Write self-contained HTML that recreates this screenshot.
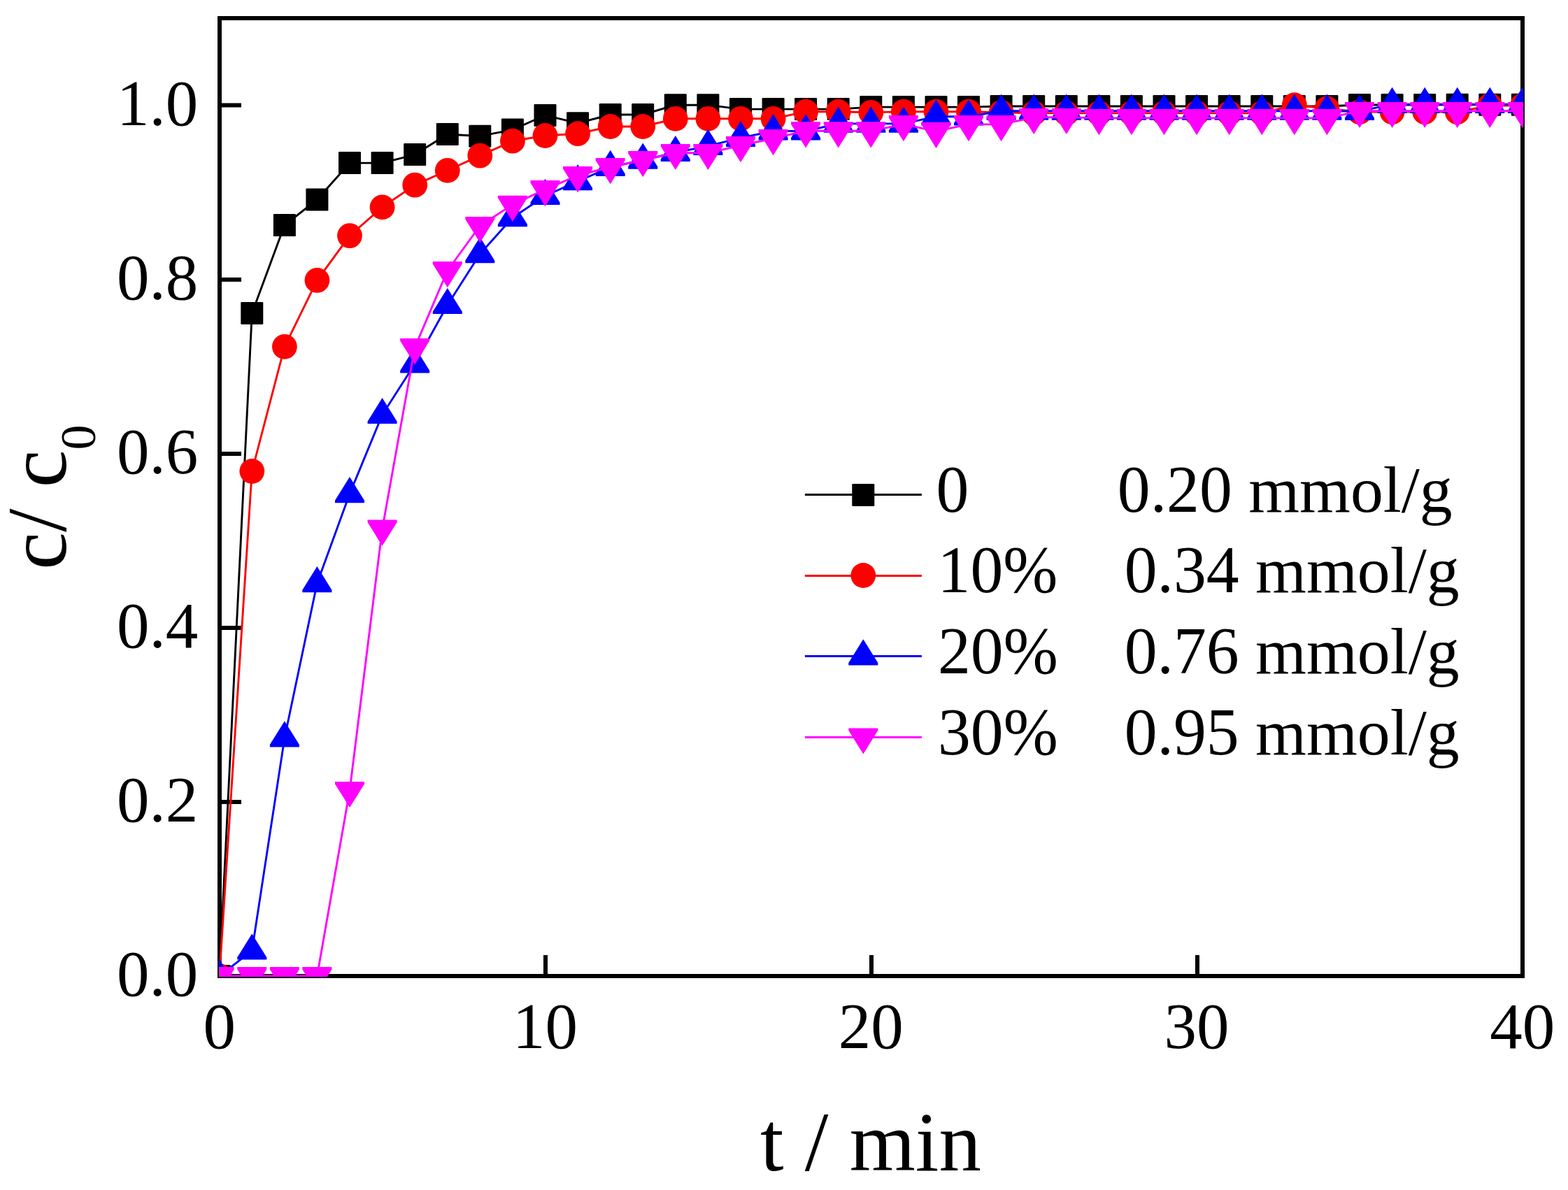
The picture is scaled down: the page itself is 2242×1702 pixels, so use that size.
<!DOCTYPE html>
<html lang="en">
<head>
<meta charset="utf-8">
<title>c/c0 versus t</title>
<style>
html,body{margin:0;padding:0;background:#fff;}
body{width:2242px;height:1702px;overflow:hidden;}
svg{display:block;}
text{font-family:"Liberation Serif",serif;fill:#000;}
.tick{font-size:93px;}
.leg{font-size:93.7px;white-space:pre;}
.lab{font-size:121px;white-space:pre;}
.sub{font-size:72px;}
.ax{stroke:#000;stroke-width:6;fill:none;}
.tk{stroke:#000;stroke-width:6;stroke-linecap:butt;fill:none;}
.ln{fill:none;stroke-width:2.9;stroke-linejoin:round;}
</style>
</head>
<body>
<svg width="2242" height="1702" viewBox="0 0 2242 1702">
<rect x="0" y="0" width="2242" height="1702" fill="#fff"/>
<defs><clipPath id="plot"><rect x="313" y="24" width="1865" height="1373"/></clipPath></defs>
<rect class="ax" x="314" y="26" width="1863" height="1370"/>
<g class="tk"><line x1="314" y1="1147" x2="345" y2="1147"/><line x1="314" y1="898" x2="345" y2="898"/><line x1="314" y1="649" x2="345" y2="649"/><line x1="314" y1="399.9" x2="345" y2="399.9"/><line x1="314" y1="150.5" x2="345" y2="150.5"/><line x1="780" y1="1396" x2="780" y2="1366"/><line x1="1246" y1="1396" x2="1246" y2="1366"/><line x1="1712" y1="1396" x2="1712" y2="1366"/></g>
<g class="tick" text-anchor="end"><text transform="translate(283.3,1424.3) scale(1,1.01)">0.0</text><text transform="translate(283.3,1175.3) scale(1,1.01)">0.2</text><text transform="translate(283.3,926.3) scale(1,1.01)">0.4</text><text transform="translate(283.3,677.3) scale(1,1.01)">0.6</text><text transform="translate(283.3,428.2) scale(1,1.01)">0.8</text><text transform="translate(283.3,178.8) scale(1,1.01)">1.0</text></g>
<g class="tick" text-anchor="middle"><text transform="translate(313.8,1499) scale(1,1.01)">0</text><text transform="translate(779.5,1499) scale(1,1.01)">10</text><text transform="translate(1245.3,1499) scale(1,1.01)">20</text><text transform="translate(1711,1499) scale(1,1.01)">30</text><text transform="translate(2176.8,1499) scale(1,1.01)">40</text></g>
<text class="lab" x="1087" y="1674">t / min</text>
<text class="lab" transform="translate(94,814.8) rotate(-90)">c/ c<tspan class="sub" dy="42">0</tspan></text>
<g clip-path="url(#plot)">
<g fill="#000"><polyline class="ln" stroke="#000" points="313.7,1396 360.3,448 406.9,322.1 453.4,285.5 500,233.1 546.6,233.1 593.2,221.1 639.8,192 686.3,194.7 732.9,185.6 779.5,164.9 826.1,176.2 872.7,164 919.2,164 965.8,150.2 1012.4,150.2 1059,156.1 1105.6,156.1 1152.1,156.1 1198.7,156.1 1245.3,153.1 1291.9,153.1 1338.5,153.1 1385,153.1 1431.6,152 1478.2,152 1524.8,152 1571.4,152 1617.9,152 1664.5,152 1711.1,152 1757.7,152 1804.3,152 1850.8,152 1897.4,152 1944,150 1990.6,150 2037.2,150 2083.7,149.8 2130.3,149.8 2176.9,149.8"/>
<rect x="297.7" y="1380" width="32" height="32" rx="1.2"/><rect x="344.3" y="432" width="32" height="32" rx="1.2"/><rect x="390.9" y="306.1" width="32" height="32" rx="1.2"/><rect x="437.4" y="269.5" width="32" height="32" rx="1.2"/><rect x="484" y="217.1" width="32" height="32" rx="1.2"/><rect x="530.6" y="217.1" width="32" height="32" rx="1.2"/><rect x="577.2" y="205.1" width="32" height="32" rx="1.2"/><rect x="623.8" y="176" width="32" height="32" rx="1.2"/><rect x="670.3" y="178.7" width="32" height="32" rx="1.2"/><rect x="716.9" y="169.6" width="32" height="32" rx="1.2"/><rect x="763.5" y="148.9" width="32" height="32" rx="1.2"/><rect x="810.1" y="160.2" width="32" height="32" rx="1.2"/><rect x="856.7" y="148" width="32" height="32" rx="1.2"/><rect x="903.2" y="148" width="32" height="32" rx="1.2"/><rect x="949.8" y="134.2" width="32" height="32" rx="1.2"/><rect x="996.4" y="134.2" width="32" height="32" rx="1.2"/><rect x="1043" y="140.1" width="32" height="32" rx="1.2"/><rect x="1089.6" y="140.1" width="32" height="32" rx="1.2"/><rect x="1136.1" y="140.1" width="32" height="32" rx="1.2"/><rect x="1182.7" y="140.1" width="32" height="32" rx="1.2"/><rect x="1229.3" y="137.1" width="32" height="32" rx="1.2"/><rect x="1275.9" y="137.1" width="32" height="32" rx="1.2"/><rect x="1322.5" y="137.1" width="32" height="32" rx="1.2"/><rect x="1369" y="137.1" width="32" height="32" rx="1.2"/><rect x="1415.6" y="136" width="32" height="32" rx="1.2"/><rect x="1462.2" y="136" width="32" height="32" rx="1.2"/><rect x="1508.8" y="136" width="32" height="32" rx="1.2"/><rect x="1555.4" y="136" width="32" height="32" rx="1.2"/><rect x="1601.9" y="136" width="32" height="32" rx="1.2"/><rect x="1648.5" y="136" width="32" height="32" rx="1.2"/><rect x="1695.1" y="136" width="32" height="32" rx="1.2"/><rect x="1741.7" y="136" width="32" height="32" rx="1.2"/><rect x="1788.3" y="136" width="32" height="32" rx="1.2"/><rect x="1834.8" y="136" width="32" height="32" rx="1.2"/><rect x="1881.4" y="136" width="32" height="32" rx="1.2"/><rect x="1928" y="134" width="32" height="32" rx="1.2"/><rect x="1974.6" y="134" width="32" height="32" rx="1.2"/><rect x="2021.2" y="134" width="32" height="32" rx="1.2"/><rect x="2067.7" y="133.8" width="32" height="32" rx="1.2"/><rect x="2114.3" y="133.8" width="32" height="32" rx="1.2"/><rect x="2160.9" y="133.8" width="32" height="32" rx="1.2"/></g>
<g fill="#f00"><polyline class="ln" stroke="#f00" points="313.7,1396 360.3,674 406.9,495.8 453.4,400.9 500,337.1 546.6,296.3 593.2,264.6 639.8,243.8 686.3,222.6 732.9,201.7 779.5,194 826.1,191.2 872.7,181 919.2,181 965.8,169.8 1012.4,169.8 1059,169.8 1105.6,169.8 1152.1,159.7 1198.7,159.7 1245.3,160.8 1291.9,159.7 1338.5,159.7 1385,159.7 1431.6,160.8 1478.2,161.9 1524.8,161.9 1571.4,161.9 1617.9,161.9 1664.5,161.9 1711.1,161.9 1757.7,161.9 1804.3,161.9 1850.8,150.2 1897.4,155.2 1944,160.1 1990.6,160.1 2037.2,160.1 2083.7,160.1 2130.3,151 2176.9,151"/>
<circle cx="313.7" cy="1396" r="17.9"/><circle cx="360.3" cy="674" r="17.9"/><circle cx="406.9" cy="495.8" r="17.9"/><circle cx="453.4" cy="400.9" r="17.9"/><circle cx="500" cy="337.1" r="17.9"/><circle cx="546.6" cy="296.3" r="17.9"/><circle cx="593.2" cy="264.6" r="17.9"/><circle cx="639.8" cy="243.8" r="17.9"/><circle cx="686.3" cy="222.6" r="17.9"/><circle cx="732.9" cy="201.7" r="17.9"/><circle cx="779.5" cy="194" r="17.9"/><circle cx="826.1" cy="191.2" r="17.9"/><circle cx="872.7" cy="181" r="17.9"/><circle cx="919.2" cy="181" r="17.9"/><circle cx="965.8" cy="169.8" r="17.9"/><circle cx="1012.4" cy="169.8" r="17.9"/><circle cx="1059" cy="169.8" r="17.9"/><circle cx="1105.6" cy="169.8" r="17.9"/><circle cx="1152.1" cy="159.7" r="17.9"/><circle cx="1198.7" cy="159.7" r="17.9"/><circle cx="1245.3" cy="160.8" r="17.9"/><circle cx="1291.9" cy="159.7" r="17.9"/><circle cx="1338.5" cy="159.7" r="17.9"/><circle cx="1385" cy="159.7" r="17.9"/><circle cx="1431.6" cy="160.8" r="17.9"/><circle cx="1478.2" cy="161.9" r="17.9"/><circle cx="1524.8" cy="161.9" r="17.9"/><circle cx="1571.4" cy="161.9" r="17.9"/><circle cx="1617.9" cy="161.9" r="17.9"/><circle cx="1664.5" cy="161.9" r="17.9"/><circle cx="1711.1" cy="161.9" r="17.9"/><circle cx="1757.7" cy="161.9" r="17.9"/><circle cx="1804.3" cy="161.9" r="17.9"/><circle cx="1850.8" cy="150.2" r="17.9"/><circle cx="1897.4" cy="155.2" r="17.9"/><circle cx="1944" cy="160.1" r="17.9"/><circle cx="1990.6" cy="160.1" r="17.9"/><circle cx="2037.2" cy="160.1" r="17.9"/><circle cx="2083.7" cy="160.1" r="17.9"/><circle cx="2130.3" cy="151" r="17.9"/><circle cx="2176.9" cy="151" r="17.9"/></g>
<g fill="#00f"><polyline class="ln" stroke="#00f" points="313.7,1396 360.3,1359.7 406.9,1055.5 453.4,834.3 500,706.3 546.6,593.2 593.2,520.5 639.8,436.2 686.3,363.3 732.9,311.3 779.5,280 826.1,259.4 872.7,239 919.2,228.8 965.8,218.2 1012.4,209 1059,197.2 1105.6,187.5 1152.1,187.5 1198.7,176.9 1245.3,176.9 1291.9,176.9 1338.5,166.7 1385,166.7 1431.6,158.8 1478.2,158.8 1524.8,158.8 1571.4,158.8 1617.9,158.8 1664.5,158.8 1711.1,158.8 1757.7,158.8 1804.3,158.8 1850.8,158.8 1897.4,158.8 1944,159.2 1990.6,149.1 2037.2,149.1 2083.7,149.1 2130.3,149.1 2176.9,149.1"/>
<polygon points="313.7,1371.7 334.7,1405.5 334.7,1408.9 292.7,1408.9 292.7,1405.5"/><polygon points="360.3,1335.4 381.3,1369.2 381.3,1372.6 339.3,1372.6 339.3,1369.2"/><polygon points="406.9,1031.2 427.9,1065 427.9,1068.4 385.9,1068.4 385.9,1065"/><polygon points="453.4,810 474.4,843.8 474.4,847.2 432.4,847.2 432.4,843.8"/><polygon points="500,682 521,715.8 521,719.2 479,719.2 479,715.8"/><polygon points="546.6,568.9 567.6,602.7 567.6,606.1 525.6,606.1 525.6,602.7"/><polygon points="593.2,496.2 614.2,530 614.2,533.4 572.2,533.4 572.2,530"/><polygon points="639.8,411.9 660.8,445.7 660.8,449.1 618.8,449.1 618.8,445.7"/><polygon points="686.3,339 707.3,372.8 707.3,376.2 665.3,376.2 665.3,372.8"/><polygon points="732.9,287 753.9,320.8 753.9,324.2 711.9,324.2 711.9,320.8"/><polygon points="779.5,255.7 800.5,289.5 800.5,292.9 758.5,292.9 758.5,289.5"/><polygon points="826.1,235.1 847.1,268.9 847.1,272.3 805.1,272.3 805.1,268.9"/><polygon points="872.7,214.7 893.7,248.5 893.7,251.9 851.7,251.9 851.7,248.5"/><polygon points="919.2,204.5 940.2,238.3 940.2,241.7 898.2,241.7 898.2,238.3"/><polygon points="965.8,193.9 986.8,227.7 986.8,231.1 944.8,231.1 944.8,227.7"/><polygon points="1012.4,184.7 1033.4,218.5 1033.4,221.9 991.4,221.9 991.4,218.5"/><polygon points="1059,172.9 1080,206.7 1080,210.1 1038,210.1 1038,206.7"/><polygon points="1105.6,163.2 1126.6,197 1126.6,200.4 1084.6,200.4 1084.6,197"/><polygon points="1152.1,163.2 1173.1,197 1173.1,200.4 1131.1,200.4 1131.1,197"/><polygon points="1198.7,152.6 1219.7,186.4 1219.7,189.8 1177.7,189.8 1177.7,186.4"/><polygon points="1245.3,152.6 1266.3,186.4 1266.3,189.8 1224.3,189.8 1224.3,186.4"/><polygon points="1291.9,152.6 1312.9,186.4 1312.9,189.8 1270.9,189.8 1270.9,186.4"/><polygon points="1338.5,142.4 1359.5,176.2 1359.5,179.6 1317.5,179.6 1317.5,176.2"/><polygon points="1385,142.4 1406,176.2 1406,179.6 1364,179.6 1364,176.2"/><polygon points="1431.6,134.5 1452.6,168.3 1452.6,171.7 1410.6,171.7 1410.6,168.3"/><polygon points="1478.2,134.5 1499.2,168.3 1499.2,171.7 1457.2,171.7 1457.2,168.3"/><polygon points="1524.8,134.5 1545.8,168.3 1545.8,171.7 1503.8,171.7 1503.8,168.3"/><polygon points="1571.4,134.5 1592.4,168.3 1592.4,171.7 1550.4,171.7 1550.4,168.3"/><polygon points="1617.9,134.5 1638.9,168.3 1638.9,171.7 1596.9,171.7 1596.9,168.3"/><polygon points="1664.5,134.5 1685.5,168.3 1685.5,171.7 1643.5,171.7 1643.5,168.3"/><polygon points="1711.1,134.5 1732.1,168.3 1732.1,171.7 1690.1,171.7 1690.1,168.3"/><polygon points="1757.7,134.5 1778.7,168.3 1778.7,171.7 1736.7,171.7 1736.7,168.3"/><polygon points="1804.3,134.5 1825.3,168.3 1825.3,171.7 1783.3,171.7 1783.3,168.3"/><polygon points="1850.8,134.5 1871.8,168.3 1871.8,171.7 1829.8,171.7 1829.8,168.3"/><polygon points="1897.4,134.5 1918.4,168.3 1918.4,171.7 1876.4,171.7 1876.4,168.3"/><polygon points="1944,134.9 1965,168.7 1965,172.1 1923,172.1 1923,168.7"/><polygon points="1990.6,124.8 2011.6,158.6 2011.6,162 1969.6,162 1969.6,158.6"/><polygon points="2037.2,124.8 2058.2,158.6 2058.2,162 2016.2,162 2016.2,158.6"/><polygon points="2083.7,124.8 2104.7,158.6 2104.7,162 2062.7,162 2062.7,158.6"/><polygon points="2130.3,124.8 2151.3,158.6 2151.3,162 2109.3,162 2109.3,158.6"/><polygon points="2176.9,124.8 2197.9,158.6 2197.9,162 2155.9,162 2155.9,158.6"/></g>
<g fill="#f0f"><polyline class="ln" stroke="#f0f" points="313.7,1396 360.3,1396 406.9,1396 453.4,1396 500,1130.8 546.6,756.5 593.2,496.9 639.8,387 686.3,323 732.9,292.6 779.5,271 826.1,250.9 872.7,239 919.2,229 965.8,218.8 1012.4,218.8 1059,208 1105.6,198 1152.1,187.2 1198.7,187.2 1245.3,187.2 1291.9,177.9 1338.5,187.6 1385,177.9 1431.6,177.9 1478.2,167.8 1524.8,167.8 1571.4,168.9 1617.9,168.9 1664.5,168.9 1711.1,168.9 1757.7,168.9 1804.3,168.9 1850.8,168.9 1897.4,168.9 1944,158.8 1990.6,158.8 2037.2,158.8 2083.7,158.8 2130.3,158.8 2176.9,158.8"/>
<polygon points="292.7,1383.1 334.7,1383.1 334.7,1386.5 313.7,1420.3 292.7,1386.5"/><polygon points="339.3,1383.1 381.3,1383.1 381.3,1386.5 360.3,1420.3 339.3,1386.5"/><polygon points="385.9,1383.1 427.9,1383.1 427.9,1386.5 406.9,1420.3 385.9,1386.5"/><polygon points="432.4,1383.1 474.4,1383.1 474.4,1386.5 453.4,1420.3 432.4,1386.5"/><polygon points="479,1117.9 521,1117.9 521,1121.3 500,1155.1 479,1121.3"/><polygon points="525.6,743.6 567.6,743.6 567.6,747 546.6,780.8 525.6,747"/><polygon points="572.2,484 614.2,484 614.2,487.4 593.2,521.2 572.2,487.4"/><polygon points="618.8,374.1 660.8,374.1 660.8,377.5 639.8,411.3 618.8,377.5"/><polygon points="665.3,310.1 707.3,310.1 707.3,313.5 686.3,347.3 665.3,313.5"/><polygon points="711.9,279.7 753.9,279.7 753.9,283.1 732.9,316.9 711.9,283.1"/><polygon points="758.5,258.1 800.5,258.1 800.5,261.5 779.5,295.3 758.5,261.5"/><polygon points="805.1,238 847.1,238 847.1,241.4 826.1,275.2 805.1,241.4"/><polygon points="851.7,226.1 893.7,226.1 893.7,229.5 872.7,263.3 851.7,229.5"/><polygon points="898.2,216.1 940.2,216.1 940.2,219.5 919.2,253.3 898.2,219.5"/><polygon points="944.8,205.9 986.8,205.9 986.8,209.3 965.8,243.1 944.8,209.3"/><polygon points="991.4,205.9 1033.4,205.9 1033.4,209.3 1012.4,243.1 991.4,209.3"/><polygon points="1038,195.1 1080,195.1 1080,198.5 1059,232.3 1038,198.5"/><polygon points="1084.6,185.1 1126.6,185.1 1126.6,188.5 1105.6,222.3 1084.6,188.5"/><polygon points="1131.1,174.3 1173.1,174.3 1173.1,177.7 1152.1,211.5 1131.1,177.7"/><polygon points="1177.7,174.3 1219.7,174.3 1219.7,177.7 1198.7,211.5 1177.7,177.7"/><polygon points="1224.3,174.3 1266.3,174.3 1266.3,177.7 1245.3,211.5 1224.3,177.7"/><polygon points="1270.9,165 1312.9,165 1312.9,168.4 1291.9,202.2 1270.9,168.4"/><polygon points="1317.5,174.7 1359.5,174.7 1359.5,178.1 1338.5,211.9 1317.5,178.1"/><polygon points="1364,165 1406,165 1406,168.4 1385,202.2 1364,168.4"/><polygon points="1410.6,165 1452.6,165 1452.6,168.4 1431.6,202.2 1410.6,168.4"/><polygon points="1457.2,154.9 1499.2,154.9 1499.2,158.3 1478.2,192.1 1457.2,158.3"/><polygon points="1503.8,154.9 1545.8,154.9 1545.8,158.3 1524.8,192.1 1503.8,158.3"/><polygon points="1550.4,156 1592.4,156 1592.4,159.4 1571.4,193.2 1550.4,159.4"/><polygon points="1596.9,156 1638.9,156 1638.9,159.4 1617.9,193.2 1596.9,159.4"/><polygon points="1643.5,156 1685.5,156 1685.5,159.4 1664.5,193.2 1643.5,159.4"/><polygon points="1690.1,156 1732.1,156 1732.1,159.4 1711.1,193.2 1690.1,159.4"/><polygon points="1736.7,156 1778.7,156 1778.7,159.4 1757.7,193.2 1736.7,159.4"/><polygon points="1783.3,156 1825.3,156 1825.3,159.4 1804.3,193.2 1783.3,159.4"/><polygon points="1829.8,156 1871.8,156 1871.8,159.4 1850.8,193.2 1829.8,159.4"/><polygon points="1876.4,156 1918.4,156 1918.4,159.4 1897.4,193.2 1876.4,159.4"/><polygon points="1923,145.9 1965,145.9 1965,149.3 1944,183.1 1923,149.3"/><polygon points="1969.6,145.9 2011.6,145.9 2011.6,149.3 1990.6,183.1 1969.6,149.3"/><polygon points="2016.2,145.9 2058.2,145.9 2058.2,149.3 2037.2,183.1 2016.2,149.3"/><polygon points="2062.7,145.9 2104.7,145.9 2104.7,149.3 2083.7,183.1 2062.7,149.3"/><polygon points="2109.3,145.9 2151.3,145.9 2151.3,149.3 2130.3,183.1 2109.3,149.3"/><polygon points="2155.9,145.9 2197.9,145.9 2197.9,149.3 2176.9,183.1 2155.9,149.3"/></g>
</g>
<g fill="#000"><line x1="1150.9" y1="707.5" x2="1317.9" y2="707.5" stroke="#000" stroke-width="3"/><rect x="1218.3" y="692" width="32" height="32" rx="1.2"/></g><text class="leg" transform="translate(1338.4,732.3) scale(1,1.02)">0</text><text class="leg" transform="translate(1597.8,732.3) scale(1,1.02)">0.20</text><text class="leg" x="1785.2" y="732.3">mmol/g</text>
<g fill="#f00"><line x1="1150.9" y1="823.4" x2="1317.9" y2="823.4" stroke="#f00" stroke-width="3"/><circle cx="1234.3" cy="823" r="17.9"/></g><text class="leg" transform="translate(1340.6,847) scale(1,1.02)">10%</text><text class="leg" transform="translate(1607.7,847) scale(1,1.02)">0.34</text><text class="leg" x="1795.1" y="847">mmol/g</text>
<g fill="#00f"><line x1="1150.9" y1="938.4" x2="1317.9" y2="938.4" stroke="#00f" stroke-width="3"/><polygon points="1234.3,914.3 1255.3,948.1 1255.3,951.5 1213.3,951.5 1213.3,948.1"/></g><text class="leg" transform="translate(1341,962.7) scale(1,1.02)">20%</text><text class="leg" transform="translate(1607.7,962.7) scale(1,1.02)">0.76</text><text class="leg" x="1795.1" y="962.7">mmol/g</text>
<g fill="#f0f"><line x1="1150.9" y1="1054.4" x2="1317.9" y2="1054.4" stroke="#f0f" stroke-width="3"/><polygon points="1213.3,1041.4 1255.3,1041.4 1255.3,1044.8 1234.3,1078.6 1213.3,1044.8"/></g><text class="leg" transform="translate(1341,1078.5) scale(1,1.02)">30%</text><text class="leg" transform="translate(1607.7,1078.5) scale(1,1.02)">0.95</text><text class="leg" x="1795.1" y="1078.5">mmol/g</text>
</svg>
</body>
</html>
